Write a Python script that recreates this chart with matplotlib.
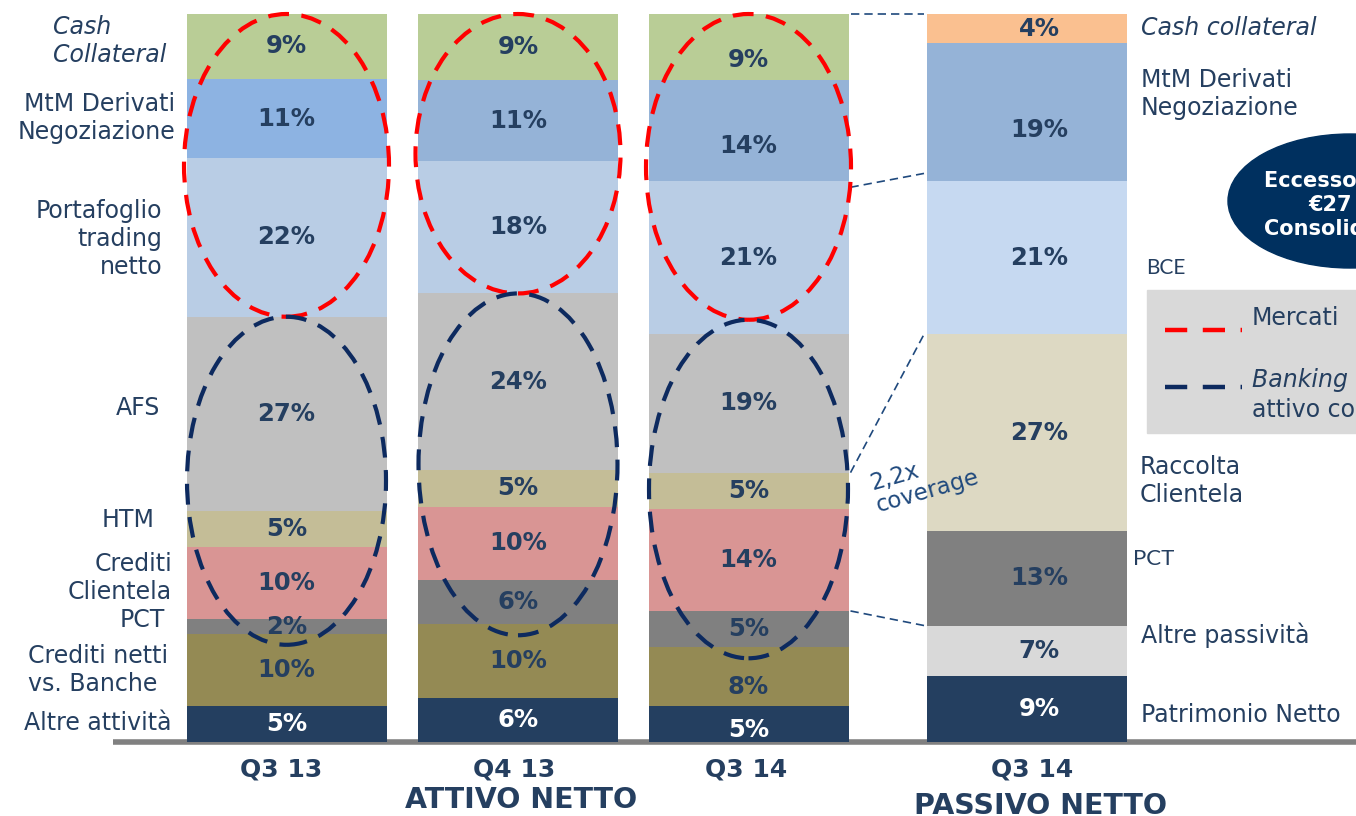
import matplotlib
matplotlib.use('Agg')
import matplotlib.pyplot as plt
from matplotlib.patches import Ellipse, Rectangle
import numpy as np

plt.rcParams['font.family'] = ['DejaVu Sans']

# ---- data (percent of total, bottom -> top) ----
periods = ['Q3 13', 'Q4 13', 'Q3 14']
attivo_cats = ['Altre attività', 'Crediti netti vs. Banche', 'PCT', 'Crediti Clientela',
               'HTM', 'AFS', 'Portafoglio trading netto', 'MtM Derivati Negoziazione',
               'Cash Collateral']
q3_13 = [5, 10, 2, 10, 5, 27, 22, 11, 9]
q4_13 = [6, 10, 6, 10, 5, 24, 18, 11, 9]
q3_14 = [5, 8, 5, 14, 5, 19, 21, 14, 9]

passivo_period = 'Q3 14'
passivo_cats = ['Patrimonio Netto', 'Altre passività', 'PCT', 'Raccolta Clientela',
                'BCE', 'MtM Derivati Negoziazione', 'Cash collateral']
passivo = [9, 7, 13, 27, 21, 19, 4]

# ---- styles ----
txt_col = '#253F60'
attivo_colors = ['#243F60', '#948A54', '#808080', '#D99594', '#C4BD97', '#C0C0C0',
                 '#B9CDE5', '#95B3D7', '#B9CD96']
mtm_q3_13 = '#8DB3E2'
passivo_colors = ['#243F60', '#D9D9D9', '#808080', '#DDD9C3', '#C6D9F1', '#95B3D7', '#FAC090']

bar_x = [286.5, 518, 748.5, 1027]
bar_w = 200
# small label nudges (data units, negative = lower) as on the slide
nudge = {(2, 8): -1.8, (2, 7): -2.2, (2, 1): -1.5, (2, 0): -0.8, (3, 5): -2.5}

fig = plt.figure(figsize=(13.56, 8.16), dpi=100)
ax = fig.add_axes([0, 0, 1, 1])
px_per = (742 - 14) / 100.0
ax.set_xlim(0, 1356)
ax.set_ylim(-(816 - 742) / px_per, 100 + 14 / px_per)
ax.axis('off')

# annotation layer in pixel units
ann = fig.add_axes([0, 0, 1, 1])
ann.set_xlim(0, 1356)
ann.set_ylim(816, 0)
ann.axis('off')
ann.patch.set_alpha(0)

ax.plot([113, 1356], [0, 0], color='#808080', lw=4, zorder=0, solid_capstyle='butt')


def stack(ax, k, vals, colors, dx=0):
    x = bar_x[k]
    vals = np.array(vals, dtype=float)
    h = vals / vals.sum() * 100
    bottoms = np.concatenate([[0], np.cumsum(h)[:-1]])
    ax.bar(x, h, bottom=bottoms, width=bar_w, color=colors, edgecolor='none', zorder=2)
    for i, (v, b, hh) in enumerate(zip(vals, bottoms, h)):
        c = 'white' if i == 0 else txt_col
        ax.text(x + dx, b + hh / 2 + nudge.get((k, i), 0), f'{int(v)}%',
                ha='center', va='center', fontsize=17.5, fontweight='bold',
                color=c, zorder=3)
    return np.concatenate([bottoms, [100]])


cums = []
for i, vals in enumerate([q3_13, q4_13, q3_14]):
    cols = list(attivo_colors)
    if i == 0:
        cols[7] = mtm_q3_13
    cums.append(stack(ax, i, vals, cols))
cp = stack(ax, 3, passivo, passivo_colors, dx=12)

# ellipses: Mercati (red) and Banking book (navy)
for i, c in enumerate(cums):
    red_lo, red_hi = c[6], 100
    if i == 2:
        red_lo += 2
    ax.add_patch(Ellipse((bar_x[i], (red_lo + red_hi) / 2), 205, red_hi - red_lo,
                         fill=False, edgecolor='#FF0000', lw=3,
                         linestyle=(0, (5, 3)), zorder=4))
    nb_lo, nb_hi = c[2] - 1.5, red_lo
    ax.add_patch(Ellipse((bar_x[i], (nb_lo + nb_hi) / 2), 199, nb_hi - nb_lo,
                         fill=False, edgecolor='#0D2A5F', lw=3,
                         linestyle=(0, (5, 3)), zorder=4))

# connectors between Q3 14 attivo and passivo
c3 = cums[2]
xa, xb = bar_x[2] + bar_w / 2 + 2, bar_x[3] - bar_w / 2 - 3
for ya, yb in [(100, 100), (c3[7] - 0.8, cp[5] + 1.1), (c3[5], cp[4]), (c3[3], cp[2])]:
    ax.plot([xa, xb], [ya, yb], color='#1F497D', lw=1.2, dashes=(5, 3), zorder=1)

# left labels
lab = dict(color=txt_col, fontsize=17, va='center', linespacing=1.2)
ann.text(53, 41, 'Cash\nCollateral', ha='left', style='italic', **lab)
ann.text(175, 118, 'MtM Derivati\nNegoziazione', ha='right', multialignment='right', **lab)
ann.text(162, 239, 'Portafoglio\ntrading\nnetto', ha='right', multialignment='right', **lab)
ann.text(160, 408, 'AFS', ha='right', **lab)
ann.text(155, 520, 'HTM', ha='right', **lab)
ann.text(172, 578, 'Crediti\nClientela', ha='right', multialignment='right', **lab)
ann.text(165, 620, 'PCT', ha='right', **lab)
ann.text(28, 670, 'Crediti netti\nvs. Banche', ha='left', **lab)
ann.text(172, 723, 'Altre attività', ha='right', **lab)

# right labels
ann.text(1141, 28, 'Cash collateral', ha='left', style='italic', **lab)
ann.text(1141, 94, 'MtM Derivati\nNegoziazione', ha='left', **lab)
ann.text(1146, 268, 'BCE', ha='left', va='center', color=txt_col, fontsize=15, family='Lato')
ann.text(1140, 481, 'Raccolta\nClientela', ha='left', **lab)
ann.text(1133, 559, 'PCT', ha='left', va='center', color=txt_col, fontsize=16, family='Lato')
ann.text(1141, 635, 'Altre passività', ha='left', **lab)
ann.text(1141, 715, 'Patrimonio Netto', ha='left', **lab)

# coverage note
ann.text(880, 517, '2,2x\ncoverage', ha='left', va='bottom', rotation=16,
         rotation_mode='anchor', color='#1F497D', fontsize=16.5, linespacing=1.0)

# Eccesso di liquidità bubble
ann.add_patch(Ellipse((1350, 201), 244, 134, color='#00305F', zorder=2))
for x, y, s in [(1264, 180, 'Eccesso di liquidità'), (1308, 205, '€27 mld'),
                (1264, 229, 'Consolidato')]:
    ann.text(x, y, s, ha='left', va='center', color='white', fontsize=15,
             fontweight='bold', zorder=3)

# legend box
ann.add_patch(Rectangle((1147, 290), 230, 143, color='#D9D9D9', zorder=1))
ann.plot([1165, 1242], [330, 330], color='#FF0000', lw=3.2, dashes=(5, 3.5), zorder=2)
ann.plot([1165, 1242], [387, 387], color='#0D2A5F', lw=3.2, dashes=(5, 3.5), zorder=2)
ann.text(1252, 318, 'Mercati', ha='left', va='center', color=txt_col, fontsize=17)
ann.text(1252, 380, 'Banking book', ha='left', va='center', color=txt_col,
         fontsize=17, style='italic')
ann.text(1252, 410, 'attivo commerciale', ha='left', va='center', color=txt_col, fontsize=17)

# bottom labels
bl = dict(ha='center', va='center', color=txt_col, fontweight='bold')
for x, p in zip([281, 514, 746], periods):
    ann.text(x, 770, p, fontsize=18, **bl)
ann.text(1032, 770, passivo_period, fontsize=18, **bl)
ann.text(521, 800, 'ATTIVO NETTO', fontsize=20.5, **bl)
ann.text(1041, 806, 'PASSIVO NETTO', fontsize=20.5, **bl)

fig.savefig('out.png', dpi=100)
